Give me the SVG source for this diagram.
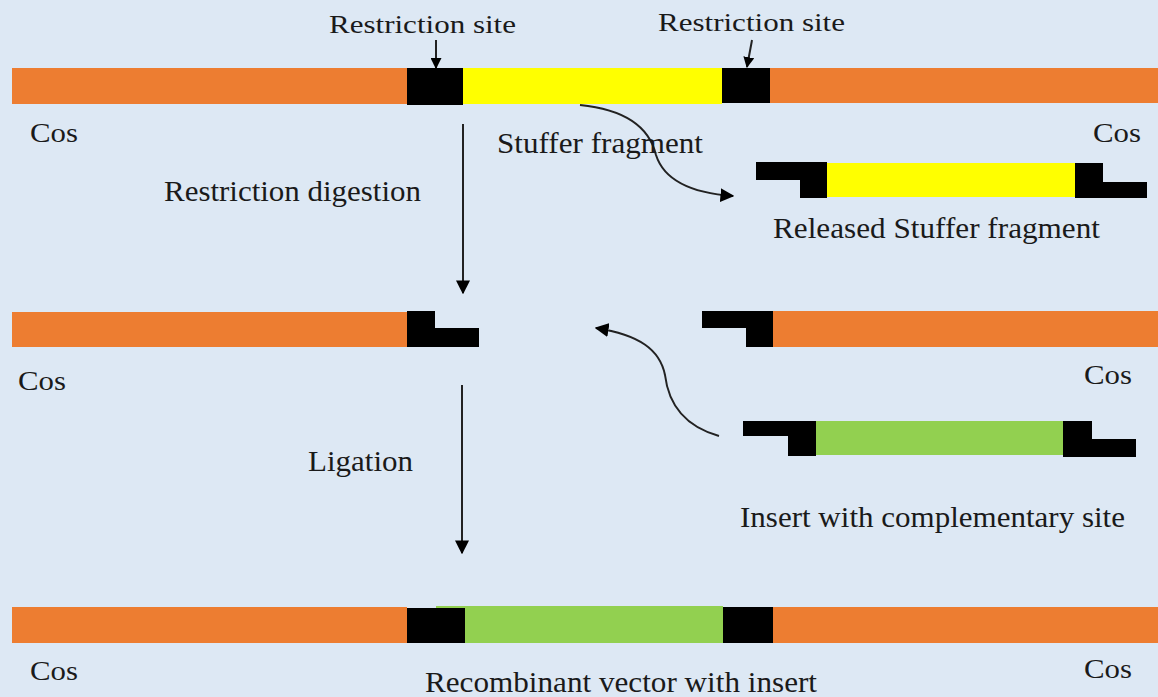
<svg xmlns="http://www.w3.org/2000/svg" width="1158" height="697" viewBox="0 0 1158 697">
<defs>
<style>
.bg{fill:#dde8f4}
.o{fill:#ed7d31}
.k{fill:#000}
.y{fill:#ffff00}
.g{fill:#92d050}
.t{font-family:"Liberation Serif","Times New Roman",serif;font-size:29px;fill:#1a1a1a}
.s{font-size:25px}
.cos{font-size:27px}
.c{fill:none;stroke:#222;stroke-width:2}
</style>
<marker id="ah" viewBox="0 0 10 10" refX="9" refY="5" markerWidth="11" markerHeight="11" orient="auto" markerUnits="userSpaceOnUse">
<path d="M0,0 L10,5 L0,10 z" fill="#000"/>
</marker>
<marker id="ah2" viewBox="0 0 10 10" refX="9" refY="5" markerWidth="14" markerHeight="14" orient="auto" markerUnits="userSpaceOnUse">
<path d="M0,0 L10,5 L0,10 z" fill="#000"/>
</marker>
</defs>
<rect class="bg" x="0" y="0" width="1158" height="697"/>

<g id="vector-top">
<rect class="o" x="12" y="68" width="395" height="36"/>
<rect class="k" x="407" y="68" width="56" height="37"/>
<rect class="y" x="463" y="68" width="259" height="36"/>
<rect class="k" x="722" y="68" width="48" height="35"/>
<rect class="o" x="770" y="68" width="388" height="35"/>
</g>

<g id="released-stuffer">
<rect class="k" x="756" y="162" width="71" height="18"/>
<rect class="k" x="800" y="162" width="27" height="36"/>
<rect class="y" x="827" y="163" width="248" height="34"/>
<rect class="k" x="1075" y="163" width="28" height="35"/>
<rect class="k" x="1075" y="182" width="72" height="16"/>
</g>

<g id="vector-left-cut">
<rect class="o" x="12" y="312" width="395" height="35"/>
<rect class="k" x="407" y="311" width="28" height="36"/>
<rect class="k" x="407" y="328" width="72" height="19"/>
</g>

<g id="vector-right-cut">
<rect class="k" x="702" y="311" width="71" height="17"/>
<rect class="k" x="746" y="311" width="27" height="36"/>
<rect class="o" x="773" y="311" width="385" height="36"/>
</g>

<g id="insert">
<rect class="k" x="743" y="421" width="73" height="15"/>
<rect class="k" x="788" y="421" width="28" height="35"/>
<rect class="g" x="816" y="421" width="247" height="34"/>
<rect class="k" x="1063" y="421" width="29" height="36"/>
<rect class="k" x="1063" y="439" width="73" height="18"/>
</g>

<g id="recombinant">
<rect class="o" x="12" y="607" width="395" height="36"/>
<rect class="g" x="436" y="606" width="287" height="37"/>
<rect class="k" x="407" y="608" width="58" height="35"/>
<rect class="k" x="723" y="607" width="50" height="36"/>
<rect class="o" x="773" y="607" width="385" height="36"/>
</g>

<g id="connectors">
<path class="c" d="M436,40 L436,68" marker-end="url(#ah)"/>
<path class="c" d="M752,40 L747,67" marker-end="url(#ah)"/>
<path class="c" d="M580,105 C630,110 650,130 656,155 C664,180 690,193 733,196" marker-end="url(#ah2)"/>
<path class="c" d="M463,124 L463,293" marker-end="url(#ah2)"/>
<path class="c" d="M719,436 C680,425 668,400 665,375 C660,350 640,335 596,328" marker-end="url(#ah2)"/>
<path class="c" d="M462,385 L462,553" marker-end="url(#ah2)"/>
</g>

<g id="labels">
<text class="t s" x="329" y="33" textLength="187" lengthAdjust="spacingAndGlyphs">Restriction site</text>
<text class="t s" x="658" y="31" textLength="187" lengthAdjust="spacingAndGlyphs">Restriction site</text>
<text class="t cos" x="30" y="142" textLength="48" lengthAdjust="spacingAndGlyphs">Cos</text>
<text class="t cos" x="1093" y="142" textLength="48" lengthAdjust="spacingAndGlyphs">Cos</text>
<text class="t" x="497" y="153" textLength="206" lengthAdjust="spacingAndGlyphs">Stuffer fragment</text>
<text class="t" x="164" y="201" textLength="257" lengthAdjust="spacingAndGlyphs">Restriction digestion</text>
<text class="t" x="773" y="238" textLength="327" lengthAdjust="spacingAndGlyphs">Released Stuffer fragment</text>
<text class="t cos" x="18" y="390" textLength="48" lengthAdjust="spacingAndGlyphs">Cos</text>
<text class="t cos" x="1084" y="384" textLength="48" lengthAdjust="spacingAndGlyphs">Cos</text>
<text class="t" x="308" y="471" textLength="105" lengthAdjust="spacingAndGlyphs">Ligation</text>
<text class="t" x="740" y="527" textLength="385" lengthAdjust="spacingAndGlyphs">Insert with complementary site</text>
<text class="t cos" x="30" y="680" textLength="48" lengthAdjust="spacingAndGlyphs">Cos</text>
<text class="t cos" x="1084" y="678" textLength="48" lengthAdjust="spacingAndGlyphs">Cos</text>
<text class="t" x="425" y="692" textLength="392" lengthAdjust="spacingAndGlyphs">Recombinant vector with insert</text>
</g>
</svg>
